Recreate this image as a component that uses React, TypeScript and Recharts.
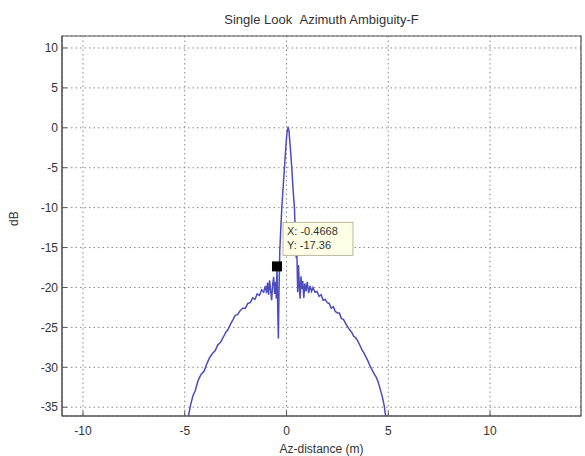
import { LineChart, Line, XAxis, YAxis, CartesianGrid, ReferenceArea, ReferenceDot } from "recharts"

const azDistance = [
  -4.92, -4.72, -4.6, -4.48, -4.35, -4.2, -4.05, -3.92, -3.78, -3.65, -3.5, -3.38, -3.25, -3.1, -2.98,
  -2.88, -2.75, -2.62, -2.52, -2.4, -2.28, -2.15, -2.02, -1.9, -1.78, -1.66, -1.55, -1.44, -1.33, -1.22,
  -1.12, -1.04, -0.98, -0.93, -0.88, -0.83, -0.78, -0.73, -0.68, -0.63, -0.58, -0.53, -0.5, -0.4668, -0.43,
  -0.4, -0.37, -0.33, -0.28, -0.23, -0.17, -0.1, -0.05, 0.0, 0.04, 0.08, 0.12, 0.16, 0.21, 0.26,
  0.32, 0.39, 0.44, 0.48, 0.51, 0.55, 0.59, 0.63, 0.67, 0.71, 0.75, 0.8, 0.85, 0.9, 0.96,
  1.02, 1.09, 1.16, 1.23, 1.3, 1.4, 1.5, 1.6, 1.7, 1.8, 1.9, 2.0, 2.1, 2.2, 2.3,
  2.4, 2.5, 2.6, 2.7, 2.8, 2.9, 3.0, 3.1, 3.2, 3.3, 3.4, 3.5, 3.6, 3.7, 3.8,
  3.9, 4.0, 4.1, 4.2, 4.3, 4.4, 4.5, 4.6, 4.7, 4.8, 4.88, 4.94,
]

const dB = [
  -37.5, -34.8, -33.6, -32.9, -31.7, -30.9, -30.5, -29.6, -28.8, -28.3, -27.9, -27.2, -26.9, -26.2, -25.6,
  -25.3, -24.6, -24.0, -23.5, -23.4, -22.9, -22.6, -22.6, -22.0, -21.9, -21.3, -21.5, -20.8, -21.0, -20.3,
  -20.6, -19.8, -20.7, -19.4, -20.9, -19.1, -20.4, -21.6, -19.6, -18.7, -20.8, -19.3, -21.4, -17.36, -22.8,
  -26.4, -20.8, -15.5, -12.6, -10.0, -7.6, -5.0, -3.1, -1.3, -0.3, 0.0, -0.3, -1.6, -3.2, -5.0,
  -7.6, -10.0, -13.8, -16.3, -15.6, -20.6, -17.2, -19.9, -21.4, -18.6, -20.2, -19.2, -21.3, -19.5, -20.5,
  -19.3, -20.7, -19.8, -20.5, -20.0, -20.6, -20.5, -21.1, -20.9, -21.6, -21.5, -21.9, -22.0, -22.6, -22.4,
  -23.0, -23.2, -23.2, -23.9, -24.0, -24.5, -24.9, -25.3, -25.6, -26.1, -26.3, -26.7, -27.2, -27.8, -28.2,
  -28.7, -29.2, -29.8, -30.3, -30.8, -31.2, -31.8, -32.7, -33.6, -34.8, -36.3, -37.5,
]

const xTicks = [-10, -5, 0, 5, 10]
const yTicks = [-35, -30, -25, -20, -15, -10, -5, 0, 5, 10]
const xDomain = [-11.03, 14.47]
const yDomain = [-36.1, 11.5]

const marker = { x: -0.4668, y: -17.36 }

const data = azDistance.map((x, i) => ({ x, y: dB[i] }))

const FONT = "'Liberation Sans', Arial, sans-serif"

function DataTip(props: any) {
  const { cx, cy } = props
  return (
    <g>
      <rect x={cx - 5} y={cy - 5} width={10} height={10} fill="#000" />
      <rect x={cx + 6} y={cy - 44} width={70} height={33} fill="#ffffe6" stroke="#b8b8a0" />
      <text x={cx + 10} y={cy - 31} fontSize={11} fill="#333" fontFamily={FONT}>
        X: {marker.x}
      </text>
      <text x={cx + 10} y={cy - 17} fontSize={11} fill="#333" fontFamily={FONT}>
        Y: {marker.y}
      </text>
    </g>
  )
}

export default function App() {
  return (
    <div style={{ position: "absolute", left: 0, top: 0, width: 585, height: 456, background: "#fff", fontFamily: FONT }}>
      <div
        style={{
          position: "absolute",
          left: 62,
          width: 519,
          top: 12,
          textAlign: "center",
          fontSize: 13,
          color: "#333",
        }}
      >
        Single Look&nbsp;&nbsp;Azimuth Ambiguity-F
      </div>
      <LineChart width={585} height={456} data={data} margin={{ top: 36, right: 4, bottom: 0, left: 0 }}>
        <CartesianGrid stroke="#8a8a8a" strokeDasharray="1.5 3" />
        <XAxis
          dataKey="x"
          type="number"
          domain={xDomain}
          ticks={xTicks}
          allowDataOverflow
          height={40}
          axisLine={{ stroke: "#555" }}
          tickLine={{ stroke: "#555" }}
          tickSize={-5}
          tickMargin={15}
          tick={{ fontSize: 12, fill: "#333", fontFamily: FONT }}
          label={{ value: "Az-distance (m)", position: "insideBottom", offset: 3, fontSize: 12, fill: "#333", fontFamily: FONT }}
        />
        <YAxis
          type="number"
          domain={yDomain}
          ticks={yTicks}
          allowDataOverflow
          width={62}
          axisLine={{ stroke: "#555" }}
          tickLine={{ stroke: "#555" }}
          tickSize={-5}
          tickMargin={9}
          tick={{ fontSize: 12, fill: "#333", fontFamily: FONT }}
          label={{ value: "dB", angle: -90, position: "insideLeft", offset: 14, fontSize: 12, fill: "#333", fontFamily: FONT }}
        />
        <ReferenceArea
          x1={xDomain[0]}
          x2={xDomain[1]}
          y1={yDomain[0]}
          y2={yDomain[1]}
          fill="none"
          stroke="#555"
          strokeWidth={1.2}
        />
        <Line
          type="linear"
          dataKey="y"
          stroke="#4d4dbd"
          strokeWidth={1.5}
          dot={false}
          isAnimationActive={false}
        />
        <ReferenceDot x={marker.x} y={marker.y} shape={DataTip} />
      </LineChart>
    </div>
  )
}
